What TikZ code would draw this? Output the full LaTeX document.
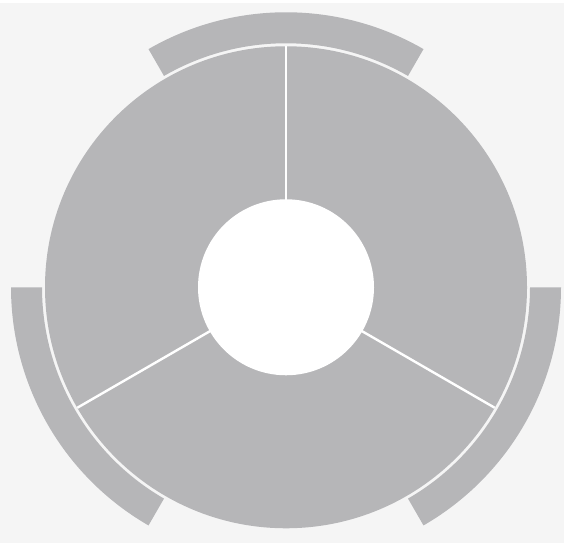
\documentclass[tikz,border=0pt]{standalone}
\definecolor{scangray}{RGB}{182,182,184}
\definecolor{paper}{RGB}{245,245,245}
\begin{document}
\begin{tikzpicture}[
		x=1pt, y=1pt,
		ring/.style={fill=scangray, draw=none},
		divider/.style={draw=white, line width=2.4pt},
		]
		\fill[paper] (0,0) rectangle (564,540);
		\coordinate (c) at (286,256);
		% main disc
		\fill[ring] (c) circle[radius=241];
		% outer arcs
		\foreach \s/\e in {60/120, 180/240, 300/360}
			\fill[ring] ([shift={(\s:244)}]c) arc[start angle=\s, end angle=\e, radius=244]
				-- ([shift={(\e:275)}]c) arc[start angle=\e, end angle=\s, radius=275] -- cycle;
		% dividers
		\foreach \a in {90,210,330}
			\draw[divider] (c) -- ([shift={(\a:241)}]c);
		% hole
		\fill[white] (c) circle[radius=88];
	\end{tikzpicture}
\end{document}
